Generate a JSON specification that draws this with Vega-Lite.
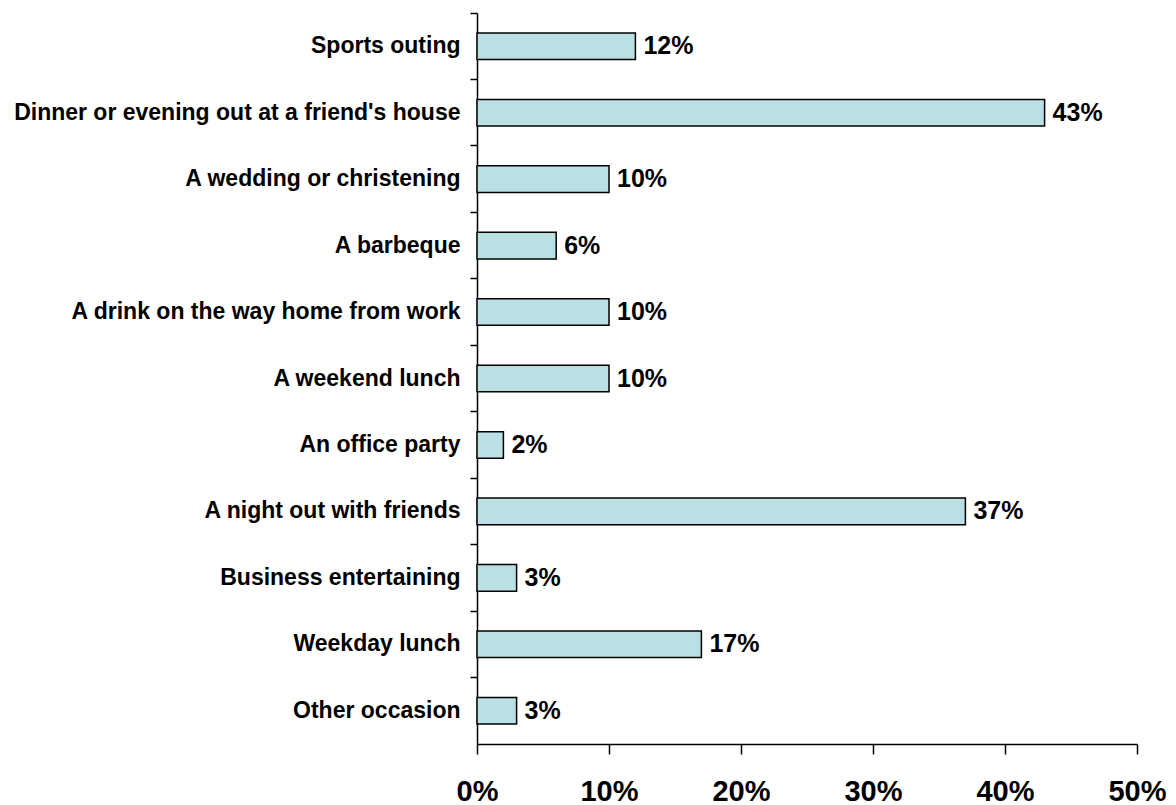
{
  "$schema": "https://vega.github.io/schema/vega-lite/v6.json",
  "autosize": "none",
  "padding": {"left": 477, "top": 13, "right": 39, "bottom": 61},
  "width": 660,
  "height": 731,
  "background": "white",
  "config": {"view": {"stroke": null}, "font": "Liberation Sans"},
  "data": {"values": [
    {"occasion": "Sports outing", "share": 0.12},
    {"occasion": "Dinner or evening out at a friend's house", "share": 0.43},
    {"occasion": "A wedding or christening", "share": 0.10},
    {"occasion": "A barbeque", "share": 0.06},
    {"occasion": "A drink on the way home from work", "share": 0.10},
    {"occasion": "A weekend lunch", "share": 0.10},
    {"occasion": "An office party", "share": 0.02},
    {"occasion": "A night out with friends", "share": 0.37},
    {"occasion": "Business entertaining", "share": 0.03},
    {"occasion": "Weekday lunch", "share": 0.17},
    {"occasion": "Other occasion", "share": 0.03}
  ]},
  "encoding": {
    "y": {
      "field": "occasion", "type": "nominal", "sort": null,
      "scale": {"paddingInner": 0, "paddingOuter": 0},
      "axis": {
        "title": null, "bandPosition": 0, "grid": false,
        "domainColor": "black", "domainWidth": 1.5,
        "tickColor": "black", "tickWidth": 1.5, "tickSize": 7,
        "labelPadding": 10, "labelFont": "Liberation Sans", "labelFontWeight": "bold",
        "labelFontSize": 23, "labelColor": "black", "labelLimit": 600,
        "labelBaseline": "middle"
      }
    },
    "x": {
      "field": "share", "type": "quantitative",
      "scale": {"domain": [0, 0.5], "nice": false},
      "axis": {
        "title": null, "format": ".0%", "values": [0, 0.1, 0.2, 0.3, 0.4, 0.5],
        "grid": false, "domainColor": "black", "domainWidth": 1.5,
        "tickColor": "black", "tickWidth": 1.5, "tickSize": 10,
        "labelPadding": 23, "labelFont": "Liberation Sans", "labelFontWeight": "bold",
        "labelFontSize": 29, "labelColor": "black", "labelFlush": false
      }
    }
  },
  "layer": [
    {
      "mark": {"type": "bar", "fill": "#BBE0E3", "stroke": "black", "strokeWidth": 1.5, "height": {"band": 0.4}}
    },
    {
      "mark": {"type": "text", "align": "left", "baseline": "middle", "dx": 8, "font": "Liberation Sans", "fontWeight": "bold", "fontSize": 25, "color": "black"},
      "encoding": {"text": {"field": "share", "type": "quantitative", "format": ".0%"}}
    }
  ]
}
